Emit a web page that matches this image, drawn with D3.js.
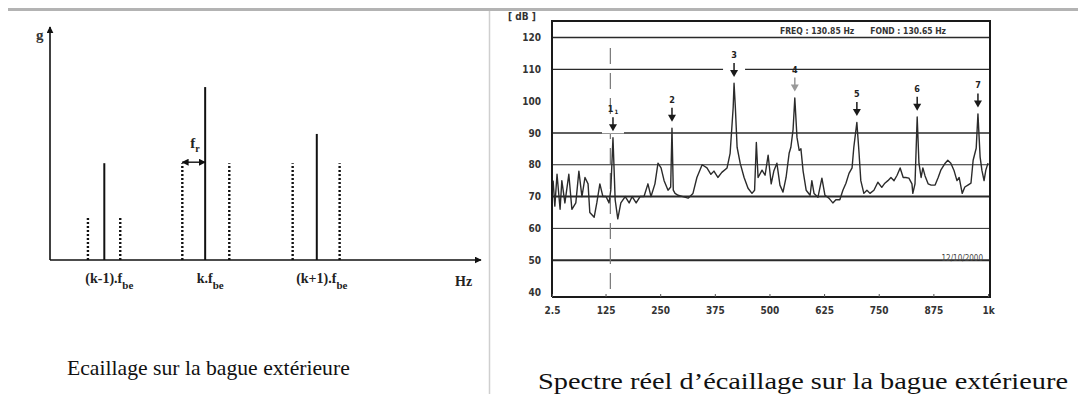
<!DOCTYPE html>
<html>
<head>
<meta charset="utf-8">
<script src="https://cdn.jsdelivr.net/npm/d3@7"></script>
<style>
  body { margin: 0; background: #fff; }
  svg { display: block; }
</style>
</head>
<body>
<script>
'use strict';

// ---- left sketch: theoretical spectrum (arbitrary units) ----
let sketchPos  = [8.8, 12.6, 16.3, 30.7, 36.0, 41.6, 56.3, 61.9, 67.2];
let sketchAmp  = [19.5, 44, 19.5, 44, 78.6, 44, 44, 57.3, 44];
let sketchKind = ['side', 'main', 'side', 'side', 'main', 'side', 'side', 'main', 'side'];
let sketchTicks = [12.6, 36.0, 61.9];
let sketchTickLabels = ['(k-1).f', 'k.f', '(k+1).f'];

// ---- right chart: measured spectrum ----
let specHz = [5, 9, 14, 21, 25, 32, 41, 48, 57, 64, 71, 78, 85, 89, 99, 105, 112, 119, 126, 133,
  137, 142, 147, 153, 160, 170, 179, 186, 195, 204, 213, 222, 229, 238, 245, 252, 259, 268, 274, 277,
  280, 284, 291, 302, 314, 325, 334, 346, 357, 366, 373, 382, 391, 403, 410, 417, 419, 422, 426, 433,
  442, 451, 460, 466, 470, 474, 483, 490, 497, 504, 510, 517, 524, 531, 538, 545, 549, 554, 558, 563,
  568, 572, 577, 584, 593, 597, 602, 611, 620, 627, 636, 645, 652, 661, 668, 675, 682, 689, 693, 700,
  705, 709, 716, 723, 730, 739, 748, 757, 764, 771, 778, 785, 792, 799, 806, 812, 819, 826, 828, 833,
  838, 842, 847, 851, 856, 863, 870, 879, 886, 892, 902, 908, 915, 922, 929, 934, 941, 947, 954, 961,
  966, 973, 977, 982, 986, 991, 995, 1000];
let specDb = [75, 67, 77, 66, 75, 68, 77, 66, 68, 78, 70, 76, 74, 65, 63.5, 68, 74, 70, 70, 68,
  72, 88.5, 69, 63, 68, 70, 68, 70, 68, 70, 70, 74, 70, 74, 80.5, 79, 75, 72, 73, 91.5,
  72, 71, 70.4, 70, 69.5, 71, 76, 80, 79, 77, 78, 76, 77.6, 79, 83.6, 98, 105.6, 98, 85.5, 80.5,
  76, 72.6, 71, 72, 87, 76, 78.3, 76.7, 83, 74, 78, 80.5, 73.6, 71.4, 76, 83.6, 85.5, 91, 101, 88.6,
  84.5, 85, 78, 72, 70.4, 75, 71, 69.8, 75.8, 70.4, 69.5, 68, 69, 69, 72, 74.2, 77.3, 79, 85.5, 93.3,
  83.6, 75, 71, 72, 71, 72, 74.5, 72.9, 74.2, 75, 76, 75, 76.7, 79, 76, 76, 75.8, 74, 71, 74,
  95, 80.5, 76, 79, 76.5, 74, 73.6, 73.6, 76, 78.3, 80.5, 81.4, 80.5, 78.3, 75, 76, 71, 73, 73.6, 74.2,
  81.4, 85.2, 96, 82.4, 78.3, 75, 78.3, 80.5];
let peakHz = [142, 277, 419, 558, 700, 838, 977];
let peakDb = [88.5, 91.5, 105.6, 101, 93.3, 95, 96];
let peakLabels = ['1', '2', '3', '4', '5', '6', '7'];
let freqTicks = [2.5, 125, 250, 375, 500, 625, 750, 875, 1000];
let freqTickLabels = ['2.5', '125', '250', '375', '500', '625', '750', '875', '1k'];
let dbTicks = [40, 50, 60, 70, 80, 90, 100, 110, 120];
let gridDb = [120, 110, 90, 80, 70, 60, 50];
let gridWidth = [1.5, 1.2, 1.5, 1.2, 2, 1, 2];
let cursorHz = 136;

let svg = d3.select('body').append('svg')
  .attr('width', 1078)
  .attr('height', 394);

// page furniture: grey rule on top, divider between the two panels
svg.append('rect')
  .attr('x', 8).attr('y', 8).attr('width', 1070).attr('height', 3)
  .attr('fill', '#b3b3b3');
svg.append('line')
  .attr('x1', 489.5).attr('x2', 489.5).attr('y1', 11).attr('y2', 394)
  .attr('stroke', '#cfcfcf').attr('stroke-width', 1.5);

let defs = svg.append('defs');
defs.append('marker')
  .attr('id', 'head')
  .attr('viewBox', '0 0 10 10')
  .attr('refX', 9).attr('refY', 5)
  .attr('markerWidth', 7).attr('markerHeight', 7)
  .attr('markerUnits', 'userSpaceOnUse')
  .attr('orient', 'auto-start-reverse')
  .append('path')
  .attr('d', 'M0,0L10,5L0,10z')
  .attr('fill', '#111');

drawSketch();
drawSpectrum();
drawCaptions();

// left panel: schematic line spectrum
function drawSketch() {
  let g = svg.append('g');
  let xS = d3.scaleLinear().domain([0, 100]).range([50, 481]);
  let yS = d3.scaleLinear().domain([0, 100]).range([260, 40]);
  let serif = 'Liberation Serif, Times New Roman, serif';

  // axes with arrow heads
  g.append('line')
    .attr('x1', xS(0)).attr('x2', xS(0)).attr('y1', yS(0)).attr('y2', 27)
    .attr('stroke', '#111').attr('stroke-width', 1.6)
    .attr('marker-end', 'url(#head)');
  g.append('line')
    .attr('x1', xS(0)).attr('x2', xS(100)).attr('y1', yS(0)).attr('y2', yS(0))
    .attr('stroke', '#111').attr('stroke-width', 1.6)
    .attr('marker-end', 'url(#head)');

  g.append('text')
    .attr('x', 36).attr('y', 40)
    .style('font-family', serif).style('font-size', '15px').style('font-weight', 'bold')
    .attr('fill', '#333')
    .text('g');
  g.append('text')
    .attr('x', 455).attr('y', 286)
    .style('font-family', serif).style('font-size', '14px').style('font-weight', 'bold')
    .attr('fill', '#222')
    .text('Hz');

  // spectral lines: solid = k.fbe harmonics, dotted = fr sidebands
  g.selectAll('.spike')
    .data(sketchPos)
    .enter()
    .append('line')
    .attr('x1', (d) => xS(d)).attr('x2', (d) => xS(d))
    .attr('y1', yS(0))
    .attr('y2', (d, i) => yS(sketchAmp[i]))
    .attr('stroke', '#111')
    .attr('stroke-width', (d, i) => sketchKind[i] == 'main' ? 2 : 2.4)
    .attr('stroke-dasharray', (d, i) => sketchKind[i] == 'main' ? null : '2,2');

  // fr spacing arrow
  g.append('line')
    .attr('x1', xS(sketchPos[3])).attr('x2', xS(sketchPos[4]))
    .attr('y1', yS(sketchAmp[3]) - 1).attr('y2', yS(sketchAmp[3]) - 1)
    .attr('stroke', '#111').attr('stroke-width', 1.4)
    .attr('marker-start', 'url(#head)')
    .attr('marker-end', 'url(#head)');
  let fr = g.append('text')
    .attr('x', xS(sketchPos[3]) + 8).attr('y', yS(sketchAmp[3]) - 15)
    .style('font-family', serif).style('font-size', '15px').style('font-weight', 'bold')
    .attr('fill', '#222')
    .text('f');
  fr.append('tspan').attr('dy', 4).style('font-size', '10px').text('r');

  // tick labels under the harmonics
  sketchTicks.forEach((t, i) => {
    let lab = g.append('text')
      .attr('x', xS(t) + 5).attr('y', 283)
      .attr('text-anchor', 'middle')
      .style('font-family', serif).style('font-size', '14px').style('font-weight', 'bold')
      .attr('fill', '#222')
      .text(sketchTickLabels[i]);
    lab.append('tspan').attr('dy', 6).style('font-size', '11px').text('be');
  });
}

// right panel: measured spectrum
function drawSpectrum() {
  let g = svg.append('g');
  let narrow = 'Liberation Sans Narrow, DejaVu Sans Condensed, Arial Narrow, sans-serif';
  let xScale = d3.scaleLinear().domain([2.5, 1000]).range([552, 988]);
  let yScale = d3.scaleLinear().domain([40, 120]).range([292, 37.5]);

  // horizontal reference lines
  g.selectAll('.grid')
    .data(gridDb)
    .enter()
    .append('line')
    .attr('x1', 552).attr('x2', 990)
    .attr('y1', (d) => yScale(d)).attr('y2', (d) => yScale(d))
    .attr('stroke', '#2a2a2a')
    .attr('stroke-width', (d, i) => gridWidth[i]);

  // dashed cursor at the fundamental
  g.append('line')
    .attr('x1', xScale(cursorHz)).attr('x2', xScale(cursorHz))
    .attr('y1', 48).attr('y2', 290)
    .attr('stroke', '#777').attr('stroke-width', 1.2)
    .attr('stroke-dasharray', '16,9');

  // spectrum trace
  let line = d3.line()
    .x((d) => xScale(d))
    .y((d, i) => yScale(specDb[i]));
  g.append('path')
    .datum(specHz)
    .attr('fill', 'none')
    .attr('stroke', '#2b2b2b')
    .attr('stroke-width', 1.4)
    .attr('stroke-linejoin', 'round')
    .attr('d', line);

  // frame
  g.append('path')
    .attr('d', 'M552,297V21H990V297H552')
    .attr('fill', 'none')
    .attr('stroke', '#1a1a1a')
    .attr('stroke-width', 2);

  // numbered arrows above the harmonic peaks
  peakHz.forEach((hz, i) => {
    let x = xScale(hz);
    let tip = yScale(peakDb[i] + 2);
    let col = i == 3 ? '#999' : '#1a1a1a';
    g.append('rect')
      .attr('x', x - 11).attr('y', tip - 16).attr('width', 22).attr('height', 18)
      .attr('fill', '#fff');
    g.append('line')
      .attr('x1', x).attr('x2', x).attr('y1', tip - 14).attr('y2', tip - 4)
      .attr('stroke', col).attr('stroke-width', 1.5);
    g.append('path')
      .attr('d', 'M' + (x - 4) + ',' + (tip - 7) + 'L' + (x + 4) + ',' + (tip - 7) + 'L' + x + ',' + tip + 'z')
      .attr('fill', col);
    let lab = g.append('text')
      .attr('x', x).attr('y', tip - 19)
      .attr('text-anchor', 'middle')
      .style('font-family', narrow).style('font-size', '9px').style('font-weight', 'bold')
      .attr('fill', '#222')
      .text(peakLabels[i]);
    if (i == 0) lab.append('tspan').attr('dx', 1).attr('dy', 2).style('font-size', '6px').text('1');
  });

  // axes labels
  let yAxis = d3.axisLeft(yScale)
    .tickValues(dbTicks)
    .tickSize(0)
    .tickPadding(0);
  let ya = g.append('g')
    .attr('transform', 'translate(541, 0)')
    .call(yAxis);
  ya.select('.domain').remove();
  ya.selectAll('text')
    .style('font-family', narrow).style('font-size', '10px').style('font-weight', 'bold')
    .attr('fill', '#333');

  let xAxis = d3.axisBottom(xScale)
    .tickValues(freqTicks)
    .tickFormat((d, i) => freqTickLabels[i])
    .tickSize(-3)
    .tickPadding(10);
  let xa = g.append('g')
    .attr('transform', 'translate(0, 297)')
    .call(xAxis);
  xa.select('.domain').remove();
  xa.selectAll('line').attr('stroke', '#555');
  xa.selectAll('text')
    .style('font-family', narrow).style('font-size', '10px').style('font-weight', 'bold')
    .attr('fill', '#333');

  g.append('text')
    .attr('x', 508).attr('y', 20)
    .style('font-family', narrow).style('font-size', '10px').style('font-weight', 'bold')
    .attr('fill', '#333')
    .text('[ dB ]');

  g.append('text')
    .attr('x', 780).attr('y', 34)
    .style('font-family', narrow).style('font-size', '8.5px').style('font-weight', 'bold')
    .attr('fill', '#333')
    .attr('xml:space', 'preserve')
    .text('FREQ : 130.85 Hz      FOND : 130.65 Hz');

  g.append('text')
    .attr('x', 983).attr('y', 261)
    .attr('text-anchor', 'end')
    .style('font-family', narrow).style('font-size', '8px')
    .attr('fill', '#444')
    .text('12/10/2000');
}

// captions under each panel, stretched horizontally to the scanned widths
function drawCaptions() {
  let serif = 'Liberation Serif, Times New Roman, serif';
  let caps = [
    {text: 'Ecaillage sur la bague extérieure', x: 67, y: 375, size: 21.5, width: 283},
    {text: 'Spectre réel d\u2019écaillage sur la bague extérieure', x: 538, y: 389, size: 24, width: 530}
  ];
  caps.forEach((c) => {
    let t = svg.append('text')
      .style('font-family', serif).style('font-size', c.size + 'px')
      .attr('fill', '#111')
      .text(c.text);
    let w = t.node().getComputedTextLength();
    t.attr('transform', 'translate(' + c.x + ',' + c.y + ') scale(' + (c.width / w) + ',1)');
  });
}
</script>
</body>
</html>
